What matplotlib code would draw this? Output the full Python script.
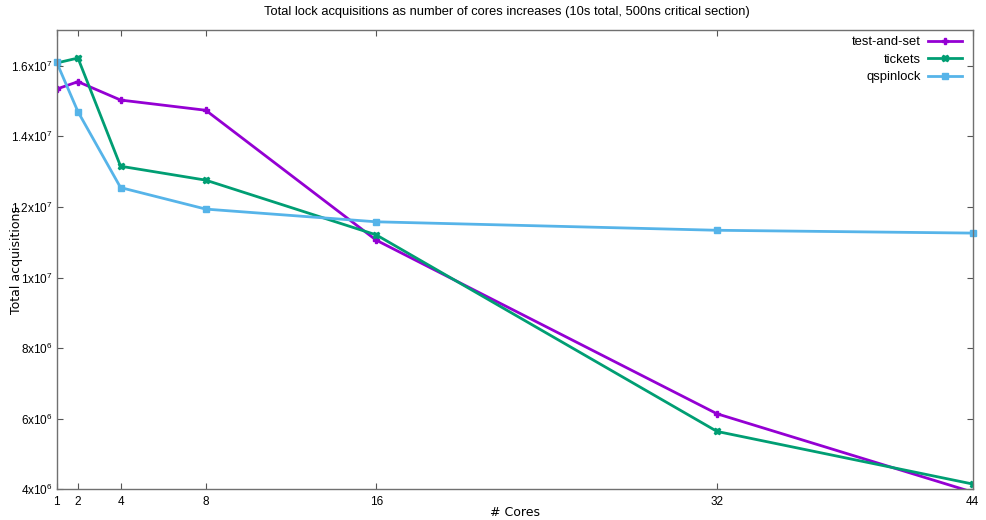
import matplotlib
matplotlib.use("Agg")
import matplotlib.pyplot as plt
from matplotlib.ticker import FixedLocator

plt.rcParams['font.family'] = ['Liberation Sans', 'DejaVu Sans']
plt.rcParams['mathtext.fontset'] = 'custom'
plt.rcParams['mathtext.rm'] = 'Liberation Sans'

cores = [1, 2, 4, 8, 16, 32, 44]
test_and_set = [1.534e7, 1.555e7, 1.503e7, 1.474e7, 1.106e7, 6.14e6, 3.92e6]
tickets = [1.608e7, 1.622e7, 1.3155e7, 1.276e7, 1.121e7, 5.64e6, 4.15e6]
qspinlock = [1.610e7, 1.470e7, 1.255e7, 1.194e7, 1.158e7, 1.134e7, 1.126e7]

y_ticks = [4e6, 6e6, 8e6, 1e7, 1.2e7, 1.4e7, 1.6e7]
y_tick_labels = [r'4x10$^{6}$', r'6x10$^{6}$', r'8x10$^{6}$', r'1x10$^{7}$',
                 r'1.2x10$^{7}$', r'1.4x10$^{7}$', r'1.6x10$^{7}$']

fig = plt.figure(figsize=(9.87, 5.2), dpi=100)
ax = fig.add_axes([0.0574, 0.059, 0.9281, 0.883])

ax.plot(cores, test_and_set, color='#9400D3', lw=2.0, marker='P', ms=5,
        label='test-and-set', clip_on=True)
ax.plot(cores, tickets, color='#009E73', lw=2.0, marker='X', ms=5,
        label='tickets', clip_on=True)
ax.plot(cores, qspinlock, color='#56B4E9', lw=2.0, marker='s', ms=5,
        label='qspinlock', clip_on=False)

ax.set_xlim(1, 44)
ax.set_ylim(4e6, 1.701e7)
ax.xaxis.set_major_locator(FixedLocator(cores))
ax.set_xticklabels([str(c) for c in cores])
ax.yaxis.set_major_locator(FixedLocator(y_ticks))
ax.set_yticklabels(y_tick_labels)

ax.tick_params(direction='in', length=4, width=0.8, color='#555555',
               top=True, right=True, labelsize=8.5)
ax.tick_params(axis='x', pad=5)
ax.tick_params(axis='y', pad=3)
for s in ax.spines.values():
    s.set_color('#707070')
    s.set_linewidth(1.0)

fig.text(0.514, 0.976,
         'Total lock acquisitions as number of cores increases (10s total, 500ns critical section)',
         fontsize=9.3, ha='center', va='center')
ax.set_xlabel('# Cores', fontsize=9, family='DejaVu Sans')
ax.xaxis.set_label_coords(0.5, -0.036)
ax.set_ylabel('Total acquisitions', fontsize=9, family='DejaVu Sans')
ax.yaxis.set_label_coords(-0.0365, 0.5)

leg = ax.legend(loc='upper right', bbox_to_anchor=(0.9945, 1.0),
                frameon=False, markerfirst=False,
                fontsize=9.4, handlelength=2.6, borderaxespad=0.05,
                labelspacing=0.42, handletextpad=0.55)
for t in leg.get_texts():
    t.set_ha('right')

fig.savefig('out.png', dpi=100)
